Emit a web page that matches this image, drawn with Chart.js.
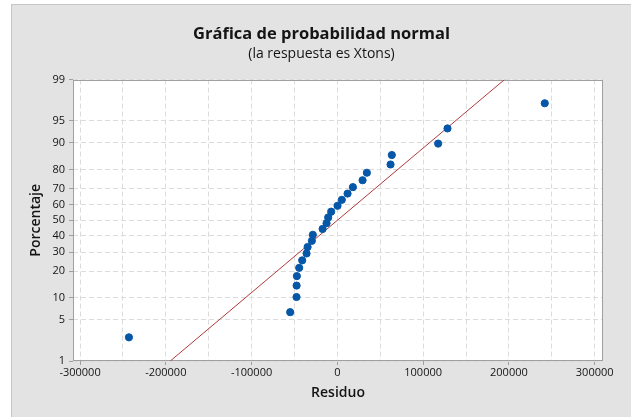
<!DOCTYPE html>
<html>
<head>
<meta charset="utf-8">
<script src="https://cdn.jsdelivr.net/npm/chart.js@4.4.1/dist/chart.umd.min.js"></script>
<style>
html, body { margin: 0; padding: 0; background: #fff; width: 631px; height: 417px; overflow: hidden; }
#wrap { position: absolute; left: 11px; top: 4px; width: 619px; height: 412px; background: #e3e3e3;
        border-left: 1px solid #c6c6c6; border-top: 1px solid #c6c6c6; }
canvas { display: block; }
</style>
</head>
<body>
<div id="wrap"><canvas id="chart" width="619" height="412"></canvas></div>
<script>
// residuals, sorted, with their plotted percentage
const residuals = [-243000, -55000, -47600, -47500, -47200, -44500, -41000, -35900, -34700, -29700,
    -28600, -17200, -12600, -10700, -7200, 200, 5200, 11900, 18100, 29400, 34400, 62000, 63500,
    117500, 128400, 241800];
const percents = [2.65, 6.44, 10.23, 14.02, 17.80, 21.59, 25.38, 29.17, 32.95, 36.74, 40.53, 44.32,
    48.11, 51.89, 55.68, 59.47, 63.26, 67.05, 70.83, 74.62, 78.41, 82.20, 85.98, 89.77, 93.56, 97.35];

// fitted normal line end points
const fitX = [-194800, 194800];
const fitP = [1, 99];

const yTicks = [1, 5, 10, 20, 30, 40, 50, 60, 70, 80, 90, 95, 99];
const xTicks = [-300000, -250000, -200000, -150000, -100000, -50000, 0, 50000, 100000, 150000, 200000, 250000, 300000];

const FONT = "'Open Sans', 'Noto Sans', sans-serif";
const INK = '#141414';
const AXIS = '#a0a0a0';

// inverse normal cdf (Acklam)
const probit = (p) => {
    const a = [-3.969683028665376e+01, 2.209460984245205e+02, -2.759285104469687e+02, 1.383577518672690e+02, -3.066479806614716e+01, 2.506628277459239e+00];
    const b = [-5.447609879822406e+01, 1.615858368580409e+02, -1.556989798598866e+02, 6.680131188771972e+01, -1.328068155288572e+01];
    const c = [-7.784894002430293e-03, -3.223964580411365e-01, -2.400758277161838e+00, -2.549732539343734e+00, 4.374664141464968e+00, 2.938163982698783e+00];
    const d = [7.784695709041462e-03, 3.224671290700398e-01, 2.445134137142996e+00, 3.754408661907416e+00];
    const lo = 0.02425;
    let q, r;
    if (p < lo) {
        q = Math.sqrt(-2 * Math.log(p));
        return (((((c[0] * q + c[1]) * q + c[2]) * q + c[3]) * q + c[4]) * q + c[5]) / ((((d[0] * q + d[1]) * q + d[2]) * q + d[3]) * q + 1);
    }
    if (p > 1 - lo) {
        q = Math.sqrt(-2 * Math.log(1 - p));
        return -(((((c[0] * q + c[1]) * q + c[2]) * q + c[3]) * q + c[4]) * q + c[5]) / ((((d[0] * q + d[1]) * q + d[2]) * q + d[3]) * q + 1);
    }
    q = p - 0.5;
    r = q * q;
    return (((((a[0] * r + a[1]) * r + a[2]) * r + a[3]) * r + a[4]) * r + a[5]) * q / (((((b[0] * r + b[1]) * r + b[2]) * r + b[3]) * r + b[4]) * r + 1);
};
const z = (pct) => probit(pct / 100);

const plotFrame = {
    id: 'plotFrame',
    beforeDraw(chart) {
        const { ctx, chartArea: a } = chart;
        ctx.save();
        ctx.fillStyle = '#fff';
        ctx.fillRect(a.left, a.top, a.right - a.left, a.bottom - a.top);
        ctx.restore();
    },
    beforeDatasetsDraw(chart) {
        const { ctx, chartArea: a } = chart;
        ctx.save();
        ctx.strokeStyle = AXIS;
        ctx.lineWidth = 1;
        ctx.strokeRect(Math.round(a.left) + 0.5, Math.round(a.top) + 0.5, Math.round(a.right - a.left) - 1, Math.round(a.bottom - a.top) - 1);
        ctx.restore();
    }
};

new Chart(document.getElementById('chart'), {
    type: 'scatter',
    data: {
        datasets: [{
            data: residuals.map((r, i) => ({ x: r, y: z(percents[i]) })),
            backgroundColor: '#0657a8',
            borderColor: '#0657a8',
            pointRadius: 3.6,
            pointHoverRadius: 3.6,
            order: 0
        }, {
            data: fitX.map((x, i) => ({ x: x, y: z(fitP[i]) })),
            showLine: true,
            borderColor: '#b03a3a',
            borderWidth: 1,
            pointRadius: 0,
            order: 1
        }]
    },
    options: {
        responsive: false,
        animation: false,
        devicePixelRatio: 1,
        layout: { padding: 0 },
        plugins: {
            legend: { display: false },
            tooltip: { enabled: false },
            title: {
                display: true,
                text: 'Gráfica de probabilidad normal',
                color: INK,
                font: { family: FONT, size: 16.5, weight: '700', lineHeight: 1.2 },
                padding: { top: 19, bottom: 2 }
            },
            subtitle: {
                display: true,
                text: '(la respuesta es Xtons)',
                color: INK,
                font: { family: FONT, size: 14, weight: '500', lineHeight: 1.2 },
                padding: { top: 0, bottom: 17 }
            }
        },
        scales: {
            x: {
                type: 'linear',
                min: -308200,
                max: 309700,
                afterBuildTicks: (s) => { s.ticks = xTicks.map(v => ({ value: v })); },
                afterFit: (s) => { s.height = 56; },
                grid: {
                    color: '#dcdcdc',
                    tickLength: 4,
                    tickColor: (c) => (c.tick && c.tick.value % 100000 === 0) ? AXIS : 'rgba(0,0,0,0)',
                    tickBorderDash: []
                },
                border: { display: false, dash: [5, 3] },
                ticks: {
                    autoSkip: false,
                    maxRotation: 0,
                    padding: 1,
                    color: INK,
                    font: { family: FONT, size: 11 },
                    callback: (v) => v % 100000 === 0 ? String(v) : ''
                },
                title: {
                    display: true,
                    text: 'Residuo',
                    color: INK,
                    font: { family: FONT, size: 14, weight: '600', lineHeight: 1.2 },
                    padding: { top: 2, bottom: 16 }
                }
            },
            y: {
                type: 'linear',
                min: z(1),
                max: z(99),
                afterBuildTicks: (s) => { s.ticks = yTicks.map(p => ({ value: z(p) })); },
                afterFit: (s) => { s.width = 61; },
                grid: {
                    color: '#dcdcdc',
                    tickLength: 4,
                    tickColor: AXIS,
                    tickBorderDash: []
                },
                border: { display: false, dash: [5, 3] },
                ticks: {
                    autoSkip: false,
                    padding: 4,
                    color: INK,
                    font: { family: FONT, size: 11 },
                    callback: (v, i) => String(yTicks[i])
                },
                title: {
                    display: true,
                    text: 'Porcentaje',
                    color: INK,
                    font: { family: FONT, size: 14, weight: '600', lineHeight: 1.2 },
                    padding: { top: 16, bottom: 0 }
                }
            },
            yRight: {
                type: 'linear',
                position: 'right',
                display: true,
                grid: { display: false },
                border: { display: false },
                ticks: { display: false },
                afterFit: (s) => { s.width = 28; }
            }
        }
    },
    plugins: [plotFrame]
});
</script>
</body>
</html>
